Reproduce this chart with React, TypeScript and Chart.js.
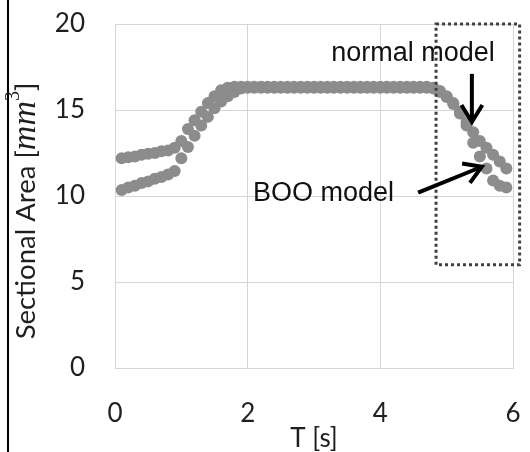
import { useEffect, useRef } from "react";
import { Chart, registerables } from "chart.js";

Chart.register(...registerables);

const times = [
  0.1, 0.2, 0.3, 0.4, 0.5, 0.6, 0.7, 0.8, 0.9, 1.0,
  1.1, 1.2, 1.3, 1.4, 1.5, 1.6, 1.7, 1.8, 1.9, 2.0,
  2.1, 2.2, 2.3, 2.4, 2.5, 2.6, 2.7, 2.8, 2.9, 3.0,
  3.1, 3.2, 3.3, 3.4, 3.5, 3.6, 3.7, 3.8, 3.9, 4.0,
  4.1, 4.2, 4.3, 4.4, 4.5, 4.6, 4.7, 4.8, 4.9, 5.0,
  5.1, 5.2, 5.3, 5.4, 5.5, 5.6, 5.7, 5.8, 5.9,
];

const normalModel = [
  12.2, 12.25, 12.3, 12.4, 12.45, 12.5, 12.6, 12.65, 12.8, 13.2,
  13.9, 14.4, 14.9, 15.4, 15.8, 16.15, 16.3, 16.35, 16.35, 16.35,
  16.35, 16.35, 16.35, 16.35, 16.35, 16.35, 16.35, 16.35, 16.35, 16.35,
  16.35, 16.35, 16.35, 16.35, 16.35, 16.35, 16.35, 16.35, 16.35, 16.35,
  16.35, 16.35, 16.35, 16.35, 16.35, 16.35, 16.35, 16.3, 16.1, 15.8,
  15.4, 14.9, 14.3, 13.7, 13.2, 12.8, 12.4, 12.0, 11.6,
];

const booModel = [
  10.35, 10.5, 10.6, 10.75, 10.85, 11.0, 11.1, 11.25, 11.45, 12.2,
  12.85, 13.5, 14.1, 14.6, 15.1, 15.5, 15.8, 16.05, 16.25, 16.3,
  16.3, 16.3, 16.3, 16.3, 16.3, 16.3, 16.3, 16.3, 16.3, 16.3,
  16.3, 16.3, 16.3, 16.3, 16.3, 16.3, 16.3, 16.3, 16.3, 16.3,
  16.3, 16.3, 16.3, 16.3, 16.3, 16.3, 16.3, 16.25, 16.05, 15.75,
  15.35, 14.8, 14.1, 13.1, 12.3, 11.6, 10.9, 10.6, 10.5,
];

const xTickValues = [0, 2, 4, 6];
const yTickValues = [0, 5, 10, 15, 20];

const xTitle = "T [s]";
const yTitleParts = ["Sectional Area [", "mm", "3", "]"];
const normalLabel = "normal model";
const booLabel = "BOO model";

// annotation anchors in data units
const boxRange = { x0: 4.84, x1: 6.1, y0: 6.0, y1: 20 };
const normalText = { x: 3.26, y: 18.3 };
const booText = { x: 2.08, y: 10.17 };
const normalArrow = { x0: 5.38, y0: 17.1, x1: 5.38, y1: 14.3 };
const booArrow = { x0: 4.57, y0: 10.2, x1: 5.53, y1: 11.7 };

const TICK_FONT = "Lato, 'Open Sans', sans-serif";
const POINT_COLOR = "#8c8c8c";

function drawArrow(ctx: CanvasRenderingContext2D, x0: number, y0: number, x1: number, y1: number) {
  const ang = Math.atan2(y1 - y0, x1 - x0);
  const head = 20;
  const spread = 0.55;
  ctx.beginPath();
  ctx.moveTo(x0, y0);
  ctx.lineTo(x1 - Math.cos(ang) * 2, y1 - Math.sin(ang) * 2);
  ctx.stroke();
  ctx.beginPath();
  ctx.moveTo(x1 - head * Math.cos(ang - spread), y1 - head * Math.sin(ang - spread));
  ctx.lineTo(x1, y1);
  ctx.lineTo(x1 - head * Math.cos(ang + spread), y1 - head * Math.sin(ang + spread));
  ctx.stroke();
}

const decorPlugin = {
  id: "decor",
  afterDraw(chart: any) {
    const ctx: CanvasRenderingContext2D = chart.ctx;
    const xs = chart.scales.x;
    const ys = chart.scales.y;
    const px = (v: number) => xs.getPixelForValue(v);
    const py = (v: number) => ys.getPixelForValue(v);
    ctx.save();

    // left frame line
    ctx.fillStyle = "#000";
    ctx.fillRect(7, 0, 2, chart.height);

    // dotted box
    ctx.strokeStyle = "#404040";
    ctx.lineWidth = 3;
    ctx.setLineDash([3, 3]);
    ctx.strokeRect(px(boxRange.x0), py(boxRange.y1), px(boxRange.x1) - px(boxRange.x0), py(boxRange.y0) - py(boxRange.y1));
    ctx.setLineDash([]);

    // arrows
    ctx.strokeStyle = "#000";
    ctx.lineWidth = 4;
    ctx.lineCap = "butt";
    ctx.lineJoin = "miter";
    drawArrow(ctx, px(normalArrow.x0), py(normalArrow.y0), px(normalArrow.x1), py(normalArrow.y1));
    drawArrow(ctx, px(booArrow.x0), py(booArrow.y0), px(booArrow.x1), py(booArrow.y1));

    // labels
    ctx.fillStyle = "#111";
    ctx.font = "27px 'Liberation Sans', Arial, sans-serif";
    ctx.textBaseline = "middle";
    ctx.textAlign = "left";
    ctx.fillText(normalLabel, px(normalText.x), py(normalText.y));
    ctx.fillText(booLabel, px(booText.x), py(booText.y));

    // y title with math part
    const fonts = [
      `27.5px ${TICK_FONT}`,
      "italic 34px 'Liberation Serif', serif",
      "20px 'Liberation Serif', serif",
      `27.5px ${TICK_FONT}`,
    ];
    const shifts = [0, 0, -16, 0];
    const widths = yTitleParts.map((t, i) => {
      ctx.font = fonts[i];
      return ctx.measureText(t).width;
    });
    const total = widths.reduce((a, b) => a + b, 0);
    const centerY = (chart.chartArea.top + chart.chartArea.bottom) / 2 + 15;
    ctx.translate(35, 0);
    ctx.rotate(-Math.PI / 2);
    ctx.textBaseline = "alphabetic";
    ctx.fillStyle = "#1f1f1f";
    let lx = -(centerY + total / 2);
    yTitleParts.forEach((t, i) => {
      ctx.font = fonts[i];
      ctx.fillText(t, lx, shifts[i]);
      lx += widths[i];
    });
    ctx.restore();
  },
};

export default function App() {
  const ref = useRef<HTMLCanvasElement | null>(null);
  useEffect(() => {
    if (!ref.current) return;
    const chart = new Chart(ref.current, {
      type: "scatter",
      data: {
        datasets: [
          {
            label: normalLabel,
            data: times.map((t, i) => ({ x: t, y: normalModel[i] })),
            backgroundColor: POINT_COLOR,
            borderWidth: 0,
            pointRadius: 6,
          },
          {
            label: booLabel,
            data: times.map((t, i) => ({ x: t, y: booModel[i] })),
            backgroundColor: POINT_COLOR,
            borderWidth: 0,
            pointRadius: 6,
          },
        ],
      },
      options: {
        animation: false,
        responsive: true,
        maintainAspectRatio: false,
        events: [],
        layout: { padding: { left: 0, top: 24, right: 17, bottom: 0 } },
        plugins: { legend: { display: false }, tooltip: { enabled: false } },
        scales: {
          x: {
            type: "linear",
            min: 0,
            max: 6,
            afterBuildTicks: (s: any) => {
              s.ticks = xTickValues.map((v) => ({ value: v }));
            },
            afterFit: (s: any) => {
              s.height = 84;
            },
            grid: { color: "#d6d6d6", lineWidth: 1, drawTicks: true, tickLength: 30, tickColor: "rgba(0,0,0,0)" },
            border: { color: "#d6d6d6" },
            ticks: { color: "#1f1f1f", font: { family: TICK_FONT, size: 26 }, padding: 0, maxRotation: 0 },
            title: { display: true, text: xTitle, color: "#1f1f1f", font: { family: TICK_FONT, size: 26, lineHeight: 1 }, padding: 0 },
          },
          y: {
            type: "linear",
            min: 0,
            max: 20,
            afterBuildTicks: (s: any) => {
              s.ticks = yTickValues.map((v) => ({ value: v }));
            },
            afterFit: (s: any) => {
              s.width = 115;
            },
            grid: { color: "#d6d6d6", lineWidth: 1, drawTicks: true, tickLength: 30, tickColor: "rgba(0,0,0,0)" },
            border: { color: "#d6d6d6" },
            ticks: { color: "#1f1f1f", font: { family: TICK_FONT, size: 26 }, padding: 0 },
          },
        },
      },
      plugins: [decorPlugin],
    });
    return () => chart.destroy();
  }, []);
  return (
    <div style={{ position: "absolute", left: 0, top: 0, width: 530, height: 452, background: "#fff" }}>
      <canvas ref={ref} />
    </div>
  );
}
